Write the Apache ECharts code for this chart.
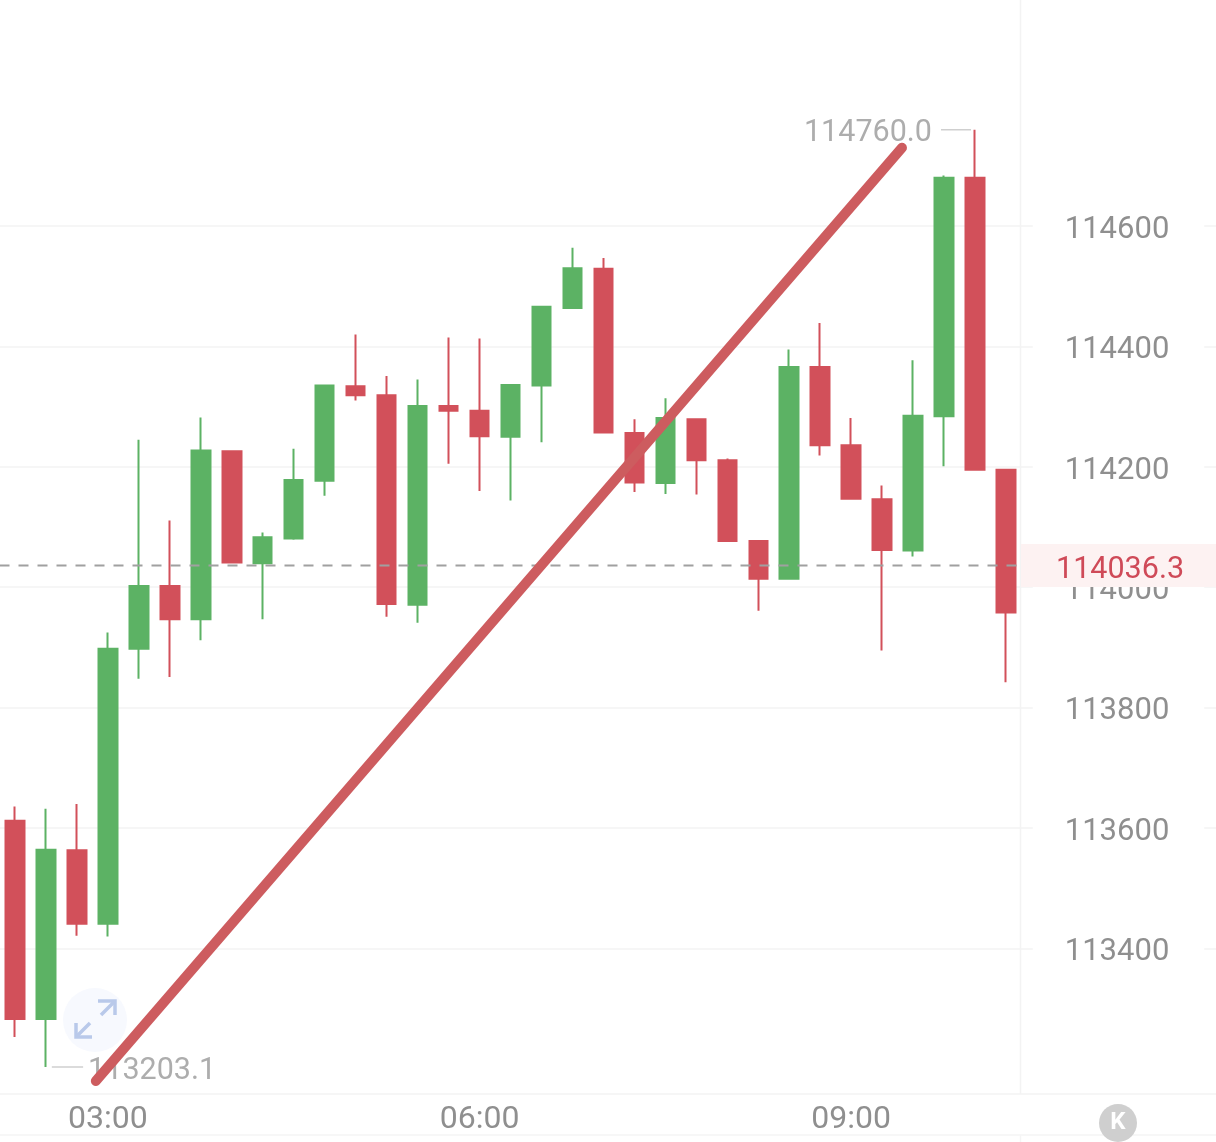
<!DOCTYPE html>
<html>
<head>
<meta charset="utf-8">
<style>
  html, body { margin: 0; padding: 0; background: #fff; }
  #chart { width: 1216px; height: 1142px; }
</style>
<script src="https://cdn.jsdelivr.net/npm/echarts@6/dist/echarts.min.js"></script>
</head>
<body>
<div id="chart"></div>
<script>
// 15 minute buckets, the ones after 10:15 are empty space right of the last candle
const times = ['02:15','02:30','02:45','03:00','03:15','03:30','03:45','04:00','04:15','04:30',
  '04:45','05:00','05:15','05:30','05:45','06:00','06:15','06:30','06:45','07:00',
  '07:15','07:30','07:45','08:00','08:15','08:30','08:45','09:00','09:15','09:30',
  '09:45','10:00','10:15','10:30','10:45','11:00','11:15','11:30','11:45','12:00']
const timeLabels = ['03:00', '06:00', '09:00']
const priceTicks = [113400, 113600, 113800, 114000, 114200, 114400, 114600]

// [open, close, low, high]
const candles = [
  [113612, 113283, 113253, 113636],
  [113283, 113564, 113203.1, 113632],
  [113563, 113441, 113421, 113640],
  [113441, 113898, 113420, 113925],
  [113898, 114002, 113848, 114245],
  [114002, 113947, 113851, 114111],
  [113947, 114227, 113912, 114282],
  [114226, 114041, 114041, 114227],
  [114040, 114083, 113947, 114091],
  [114081, 114178, 114079, 114230],
  [114177, 114335, 114152, 114336],
  [114334, 114319, 114310, 114420],
  [114319, 113972, 113951, 114351],
  [113971, 114301, 113941, 114345],
  [114301, 114293, 114205, 114415],
  [114293, 114251, 114160, 114413],
  [114250, 114336, 114144, 114336],
  [114335, 114466, 114241, 114466],
  [114464, 114530, 114464, 114564],
  [114529, 114257, 114257, 114547],
  [114256, 114174, 114158, 114279],
  [114173, 114281, 114155, 114314],
  [114279, 114211, 114154, 114280],
  [114211, 114077, 114076, 114214],
  [114077, 114014, 113961, 114077],
  [114014, 114366, 114014, 114395],
  [114366, 114236, 114219, 114439],
  [114236, 114147, 114147, 114281],
  [114146, 114062, 113895, 114169],
  [114061, 114285, 114051, 114377],
  [114284, 114680, 114201, 114684],
  [114680, 114195, 114194, 114760],
  [114195, 113958, 113842, 114195]
]

const highPrice = 114760.0
const lowPrice = 113203.1
const lastPrice = 114036.3
const axisMin = 113158.3
const axisMax = 114975.4

// drawn on the hidden value x axis, units are candle indexes
const highLeaderX = [29.9, 30.87]
const lowLeaderX = [1.19, 2.2]
const lastLineX = [-0.5, 32.42]
const trendX = [2.61, 28.64]
const trendY = [113180, 114730]

const RED = '#d2505a'
const GREEN = '#5cb264'
const FONT = 'Roboto, sans-serif'

const chart = echarts.init(document.getElementById('chart'))

function leader(name, xs, price, label) {
  return {
    name,
    type: 'line',
    xAxisIndex: 1,
    symbol: 'circle',
    symbolSize: 0,
    silent: true,
    z: 3,
    lineStyle: { color: '#cfcfcf', width: 1.5 },
    data: [
      { value: [xs[0], price], label: xs === highLeaderX ? label : undefined },
      { value: [xs[1], price], label: xs === lowLeaderX ? label : undefined }
    ]
  }
}

function extremeLabel(price, position, distance) {
  return {
    show: true,
    position,
    distance,
    offset: [0, 4],
    formatter: price.toFixed(1),
    color: '#adadad',
    fontSize: 30.5,
    fontFamily: FONT
  }
}

chart.setOption({
  animation: false,
  backgroundColor: '#fff',
  grid: { left: -0.5, top: 0, width: 1238.8, height: 1094, outerBoundsMode: 'none' },
  xAxis: [
    {
      type: 'category',
      data: times,
      boundaryGap: true,
      axisLine: { lineStyle: { color: '#f3f3f3', width: 1.5 } },
      axisTick: { show: false },
      axisLabel: {
        color: '#8f8f8f',
        fontSize: 32,
        fontFamily: FONT,
        margin: 10,
        interval: (i, v) => timeLabels.includes(v)
      },
      splitLine: { show: false }
    },
    { type: 'value', min: -0.5, max: 39.5, show: false }
  ],
  yAxis: {
    type: 'value',
    position: 'right',
    min: axisMin,
    max: axisMax,
    axisLine: { show: false },
    axisTick: { show: false, customValues: priceTicks },
    axisLabel: {
      inside: true,
      customValues: priceTicks,
      formatter: (v) => '{p|' + v + '}',
      margin: 34,
      backgroundColor: '#fff',
      padding: [0, 35, 0, 32],
      rich: {
        p: { color: '#8f8f8f', fontSize: 31, fontFamily: FONT, padding: [8, 0, 0, 0] }
      }
    },
    splitLine: { show: true, lineStyle: { color: '#f3f3f3', width: 1.5 } }
  },
  series: [
    {
      name: 'kline',
      type: 'candlestick',
      barWidth: 19,
      z: 2,
      itemStyle: {
        color: GREEN,
        color0: RED,
        borderColor: GREEN,
        borderColor0: RED,
        borderWidth: 2
      },
      data: candles
    },
    leader('high', highLeaderX, highPrice, extremeLabel(highPrice, 'left', 9)),
    leader('low', lowLeaderX, lowPrice, extremeLabel(lowPrice, 'right', 5)),
    {
      name: 'last',
      type: 'line',
      xAxisIndex: 1,
      symbol: 'circle',
      symbolSize: 0,
      silent: true,
      z: 4,
      lineStyle: { color: '#a0a0a0', width: 2, type: [10, 9] },
      data: [
        [lastLineX[0], lastPrice],
        {
          value: [lastLineX[1], lastPrice],
          label: {
            show: true,
            position: 'right',
            distance: 2,
            formatter: '{p|' + lastPrice.toFixed(1) + '}',
            backgroundColor: '#fdf2f2',
            padding: [6.5, 40, 6.5, 35],
            rich: {
              p: { color: '#cf4a58', fontSize: 30.5, fontFamily: FONT, padding: [10, 0, 0, 0], lineHeight: 30 }
            }
          }
        }
      ]
    },
    {
      name: 'trend',
      type: 'line',
      xAxisIndex: 1,
      symbol: 'none',
      silent: true,
      z: 5,
      lineStyle: { color: '#cd5c5f', width: 10, cap: 'round' },
      data: trendX.map((x, i) => [x, trendY[i]])
    }
  ],
  // panel frame and the two floating buttons, not data
  graphic: [
    { type: 'line', z: 1, shape: { x1: 1020.5, y1: 0, x2: 1020.5, y2: 1094 }, style: { stroke: '#f3f3f3', lineWidth: 1.5 } },
    { type: 'line', z: 1, shape: { x1: 0, y1: 1135, x2: 1216, y2: 1135 }, style: { stroke: '#f5f5f5', lineWidth: 1.5 } },
    { type: 'line', z: 1, shape: { x1: 1020.5, y1: 1135, x2: 1020.5, y2: 1142 }, style: { stroke: '#f5f5f5', lineWidth: 1.5 } },
    { type: 'circle', z: 1, shape: { cx: 95, cy: 1020, r: 32 }, style: { fill: '#f7f9fe' } },
    { type: 'polyline', z: 1, shape: { points: [[98, 1001], [115, 1001], [115, 1015]] }, style: { stroke: '#b9c9ea', lineWidth: 3.5, fill: null } },
    { type: 'line', z: 1, shape: { x1: 114, y1: 1002, x2: 101, y2: 1015 }, style: { stroke: '#b9c9ea', lineWidth: 3.5 } },
    { type: 'polyline', z: 1, shape: { points: [[76, 1023], [76, 1037], [92, 1037]] }, style: { stroke: '#b9c9ea', lineWidth: 3.5, fill: null } },
    { type: 'line', z: 1, shape: { x1: 77, y1: 1036, x2: 90, y2: 1023 }, style: { stroke: '#b9c9ea', lineWidth: 3.5 } },
    { type: 'circle', z: 6, shape: { cx: 1118, cy: 1123, r: 19 }, style: { fill: '#cfcfcf' } },
    { type: 'text', z: 7, x: 1118, y: 1123, style: { text: 'K', fill: '#fff', font: 'bold 24px Roboto, sans-serif', align: 'center', verticalAlign: 'middle' } }
  ]
})
</script>
</body>
</html>
